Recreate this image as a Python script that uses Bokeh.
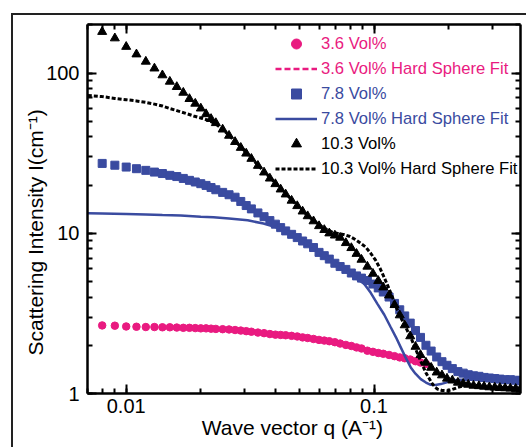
import numpy as np
from bokeh.plotting import figure
from bokeh.models import LogAxis, FixedTicker, Legend, LegendItem, Range1d
from bokeh.embed import file_html
from bokeh.resources import INLINE

# ---------------- data ----------------
q = [0.008, 0.009, 0.010, 0.011, 0.012, 0.013, 0.014, 0.015, 0.016, 0.017, 0.018, 0.019, 0.020,
     0.021, 0.022, 0.023, 0.0245, 0.026, 0.0275, 0.029, 0.0305, 0.032, 0.034, 0.036, 0.038, 0.040,
     0.042, 0.044, 0.0465, 0.049, 0.0515, 0.054, 0.057, 0.060, 0.063, 0.066, 0.0695, 0.073, 0.077,
     0.081, 0.085, 0.089, 0.094, 0.099, 0.104, 0.109, 0.115, 0.121, 0.127, 0.133, 0.140, 0.147,
     0.154, 0.162, 0.170, 0.179, 0.188, 0.197, 0.207, 0.218, 0.229, 0.240, 0.252, 0.265, 0.278,
     0.292, 0.307, 0.322, 0.338, 0.355, 0.373, 0.390]

i_36 = [2.66, 2.65, 2.62, 2.61, 2.60, 2.60, 2.59, 2.59, 2.58, 2.57, 2.57, 2.56, 2.55,
        2.55, 2.54, 2.53, 2.52, 2.51, 2.49, 2.47, 2.45, 2.43, 2.40, 2.38, 2.35, 2.33,
        2.32, 2.31, 2.29, 2.27, 2.24, 2.22, 2.19, 2.16, 2.14, 2.12, 2.09, 2.05, 2.01,
        1.98, 1.94, 1.91, 1.85, 1.82, 1.79, 1.77, 1.74, 1.71, 1.68, 1.66, 1.63, 1.59,
        1.56, 1.53]

i_78 = [27.3, 26.6, 25.9, 25.3, 24.7, 24.1, 23.6, 23.0, 22.6, 22.0, 21.4, 20.9, 20.4,
        19.9, 19.3, 18.7, 18.0, 17.4, 16.8, 15.8, 14.9, 14.2, 13.4, 12.7, 12.0, 11.4,
        10.85, 10.35, 9.85, 9.4, 8.95, 8.6, 8.15, 7.6, 7.25, 6.9, 6.5, 6.2, 5.95,
        5.65, 5.42, 5.25, 5.07, 4.82, 4.56, 4.30, 4.00, 3.65, 3.33, 3.05, 2.75, 2.47,
        2.24, 2.00, 1.84, 1.69, 1.58, 1.50, 1.43, 1.37, 1.34, 1.31, 1.29, 1.28, 1.26,
        1.25, 1.24, 1.23, 1.22, 1.22, 1.21, 1.20]

i_103 = [181, 165, 146, 131, 118, 107, 97, 88.5, 82, 75.5, 69, 64.5, 60.2,
         55.5, 51.8, 48.8, 44.5, 40.7, 37.2, 34.2, 31.5, 29.2, 26.4, 24.0, 22.0, 20.3,
         18.8, 17.5, 16.0, 14.8, 13.7, 12.8, 11.9, 11.1, 10.5, 10.0, 9.7, 9.4, 8.7,
         8.1, 7.45, 6.85, 6.2, 5.6, 5.05, 4.6, 4.1, 3.57, 3.08, 2.67, 2.28, 1.96,
         1.74, 1.56, 1.45, 1.355, 1.30, 1.24, 1.207, 1.17, 1.151, 1.136, 1.12, 1.113, 1.105,
         1.095, 1.09, 1.085, 1.08, 1.075, 1.07, 1.065]

q_fit36 = [0.022, 0.03, 0.04, 0.055, 0.07, 0.085, 0.1, 0.115, 0.13, 0.145, 0.158]
i_fit36 = [2.54, 2.45, 2.33, 2.22, 2.09, 1.94, 1.83, 1.74, 1.67, 1.60, 1.54]

q_fit78 = [0.0070, 0.008, 0.010, 0.012, 0.014, 0.0166, 0.020, 0.0225, 0.026, 0.0309, 0.0358,
           0.040, 0.045, 0.050, 0.055, 0.060, 0.065, 0.070, 0.075, 0.080, 0.085, 0.0912,
           0.097, 0.1032, 0.110, 0.1168, 0.1225, 0.1282, 0.134, 0.1407, 0.147, 0.1544,
           0.162, 0.1694, 0.177, 0.1859, 0.195, 0.204, 0.220, 0.250, 0.300, 0.390]
i_fit78 = [13.35, 13.3, 13.2, 13.1, 13.0, 12.9, 12.7, 12.6, 12.35, 12.05, 11.5,
           10.95, 10.2, 9.3, 8.5, 7.8, 7.1, 6.5, 6.0, 5.55, 5.2, 4.84,
           4.25, 3.63, 3.1, 2.59, 2.25, 1.94, 1.68, 1.455, 1.33, 1.23,
           1.17, 1.133, 1.13, 1.145, 1.17, 1.2, 1.22, 1.22, 1.2, 1.19]

q_fit103 = [0.0070, 0.008, 0.009, 0.010, 0.011, 0.012, 0.013, 0.014, 0.015, 0.016, 0.0174,
            0.0187, 0.0203, 0.0215, 0.023, 0.0245, 0.026, 0.028, 0.030, 0.033, 0.036, 0.040,
            0.044, 0.048, 0.052, 0.056, 0.060, 0.064, 0.068, 0.072, 0.076, 0.080, 0.084,
            0.088, 0.0926, 0.097, 0.1016, 0.106, 0.1098, 0.114, 0.1187, 0.123, 0.1282, 0.134,
            0.1407, 0.146, 0.152, 0.157, 0.1617, 0.167, 0.1721, 0.176, 0.1803, 0.188, 0.1979,
            0.207, 0.2172, 0.2309, 0.26, 0.30, 0.39]
i_fit103 = [72.5, 71.3, 69.5, 68.2, 67.0, 65.6, 64.0, 62.3, 60.1, 58.3, 56.0,
            54.0, 52.1, 50.6, 48.0, 44.6, 40.8, 36.5, 32.8, 28.0, 24.3, 20.6,
            17.7, 15.4, 13.6, 12.3, 11.3, 10.6, 10.15, 9.95, 9.8, 9.55, 9.15,
            8.7, 8.2, 7.5, 6.77, 6.0, 5.32, 4.65, 3.99, 3.45, 2.99, 2.6,
            2.24, 1.95, 1.68, 1.5, 1.353, 1.24, 1.145, 1.1, 1.065, 1.045, 1.04,
            1.06, 1.09, 1.12, 1.12, 1.10, 1.08]

series_names = ["3.6 Vol%", "3.6 Vol% Hard Sphere Fit",
                "7.8 Vol%", "7.8 Vol% Hard Sphere Fit",
                "10.3 Vol%", "10.3 Vol% Hard Sphere Fit"]

x_ticks = [0.01, 0.1]
x_tick_labels = ["0.01", "0.1"]
y_ticks = [1, 10, 100]
y_tick_labels = ["1", "10", "100"]
x_label = "Wave vector q (A\u207b\u00b9)"
y_label = "Scattering Intensity I(cm\u207b\u00b9)"

# ---------------- styling ----------------
PINK = "#E91A80"
BLUE = "#3A4BA0"
BLACK = "#000000"
FONT = "Liberation Sans"
NBSP = "\u00a0"

x_minor = [m * 10.0 ** e for e in (-3, -2, -1) for m in range(1, 10)]
y_minor = [m * 10.0 ** e for e in (0, 1, 2) for m in range(1, 10)]

p = figure(width=526, height=447, x_axis_type="log", y_axis_type="log",
           x_range=Range1d(0.00698, 0.390), y_range=Range1d(1.0, 201.0),
           output_backend="svg", toolbar_location=None,
           min_border_left=87, min_border_right=6, min_border_top=24, min_border_bottom=54)
p.xgrid.visible = False
p.ygrid.visible = False
p.outline_line_color = None
p.background_fill_color = "white"
p.border_fill_alpha = 0
# outer frame of the original figure (its right and bottom edges lie off the page)
p.styles = {"background": "linear-gradient(#222,#222) 11px 13px / 2px 100% no-repeat, "
                          "linear-gradient(#222,#222) 11px 13px / 100% 2px no-repeat, #ffffff"}

top_axis = LogAxis()
right_axis = LogAxis()
p.add_layout(top_axis, "above")
p.add_layout(right_axis, "right")


def style_axis(ax, ticks, labels, minor, show):
    ax.ticker = FixedTicker(ticks=ticks, minor_ticks=minor)
    ax.axis_line_color = "black"
    ax.axis_line_width = 2.5
    ax.major_tick_in = 9
    ax.major_tick_out = 0
    ax.minor_tick_in = 5
    ax.minor_tick_out = 0
    ax.major_tick_line_width = 2
    ax.minor_tick_line_width = 2
    ax.major_tick_line_color = "black"
    ax.minor_tick_line_color = "black"
    ax.major_label_text_font = FONT
    ax.major_label_text_color = "black"
    if show:
        ax.major_label_overrides = {t: l for t, l in zip(ticks, labels)}
        ax.major_label_text_font_size = "20px"
    else:
        # mirror axis: ticks only
        ax.major_label_overrides = {t: "" for t in ticks}
        ax.major_label_text_font_size = "0px"
        ax.major_label_standoff = 0


xaxis = p.below[0]
yaxis = p.left[0]
style_axis(xaxis, x_ticks, x_tick_labels, x_minor, True)
style_axis(top_axis, x_ticks, x_tick_labels, x_minor, False)
style_axis(yaxis, y_ticks, y_tick_labels, y_minor, True)
style_axis(right_axis, y_ticks, y_tick_labels, y_minor, False)
xaxis.major_label_standoff = 5
yaxis.major_label_standoff = 8

for ax, text, pad in ((xaxis, x_label, 4), (yaxis, y_label, 8)):
    ax.axis_label = text + NBSP * pad
    ax.axis_label_text_font = FONT
    ax.axis_label_text_font_size = "21px"
    ax.axis_label_text_font_style = "normal"
    ax.axis_label_text_color = "black"
xaxis.axis_label_standoff = 0
yaxis.axis_label_standoff = -4

# ---------------- glyphs ----------------
r_fit36 = p.line(q_fit36, i_fit36, line_color=PINK, line_width=2.5, line_dash="6 3")
r_36 = p.scatter(q[:len(i_36)], i_36, marker="circle", size=7.5,
                 fill_color=PINK, line_color=PINK)
r_78 = p.scatter(q, i_78, marker="square", size=8, fill_color=BLUE, line_color=BLUE)
r_fit78 = p.line(q_fit78, i_fit78, line_color=BLUE, line_width=2.5)
r_fit103 = p.line(q_fit103, i_fit103, line_color=BLACK, line_width=3, line_dash="4 2")
r_103 = p.scatter(q, i_103, marker="triangle", size=9, fill_color=BLACK, line_color=BLACK)

# ---------------- legends ----------------
def add_legend(items, color, y):
    lg = Legend(items=items, location=(188, y), orientation="vertical",
                glyph_width=42, glyph_height=25, label_height=25, spacing=0,
                padding=0, margin=0, label_standoff=4,
                label_text_font=FONT, label_text_font_size="16.6px",
                label_text_color=color, background_fill_alpha=0,
                border_line_alpha=0)
    p.add_layout(lg)


add_legend([LegendItem(label=series_names[0], renderers=[r_36]),
            LegendItem(label=series_names[1], renderers=[r_fit36])], PINK, 312)
add_legend([LegendItem(label=series_names[2], renderers=[r_78]),
            LegendItem(label=series_names[3], renderers=[r_fit78])], BLUE, 262)
add_legend([LegendItem(label=series_names[4], renderers=[r_103]),
            LegendItem(label=series_names[5], renderers=[r_fit103])], BLACK, 212)

open("out.html", "w").write(file_html(p, INLINE))
